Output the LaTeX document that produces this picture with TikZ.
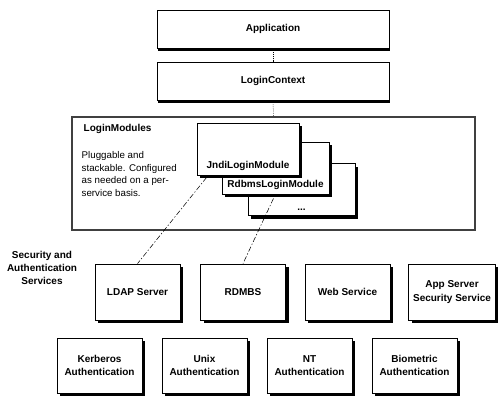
\documentclass[tikz,border=0pt]{standalone}
\usepackage{fontspec}
\setmainfont{Liberation Sans}
\usetikzlibrary{shadows}
\begin{document}
\begin{tikzpicture}[x=0.75pt,y=-0.75pt,
    every node/.style={font=\fontsize{7.5pt}{9.9pt}\selectfont\bfseries},
    topbox/.style={draw,fill=white,line width=0.6pt,minimum width=174pt,minimum height=28.5pt,
      drop shadow={shadow xshift=0.6pt,shadow yshift=-2.3pt,fill=black,opacity=1}},
    modbox/.style={draw,fill=white,line width=0.6pt,minimum height=39pt,
      drop shadow={shadow xshift=2.6pt,shadow yshift=-2.6pt,fill=black,opacity=1}},
    svcbox/.style={draw,fill=white,line width=0.6pt,minimum width=63.75pt,minimum height=42pt,align=center,
      drop shadow={shadow xshift=2.3pt,shadow yshift=-2.3pt,fill=black,opacity=1}},
    authbox/.style={svcbox,minimum height=41.25pt},
    link/.style={line width=0.4pt,dash pattern=on 4pt off 1.5pt on 1pt off 1.5pt}]
  \useasboundingbox (0,0) rectangle (503,402);
  % top of the stack
  \node[topbox] (app) at (273,29) {Application};
  \node[topbox] (ctx) at (273,81) {LoginContext};
  \node[draw=black!75,line width=1pt,minimum width=302.25pt,minimum height=84.75pt] (mods) at (273.5,173.5) {};
  \node[anchor=west] (modtitle) at (79,129) {LoginModules};
  \node[anchor=north west,align=left,font=\fontsize{7.3pt}{9.4pt}\selectfont] (modtext) at (77,147)
    {Pluggable and\\stackable. Configured\\as needed on a per-\\service basis.};
  \draw[densely dotted] (app.south) -- (ctx.north);
  \draw[densely dotted] (ctx.south) -- (mods.north);
  % stacked modules
  \node[modbox,minimum width=80.25pt,
    label={[name=dotslabel,anchor=south,yshift=0.5pt]south:...}] (dots) at (301.5,189.5) {};
  \node[modbox,minimum width=80.25pt,
    label={[name=rdbmslabel,anchor=south]south:RdbmsLoginModule}] (rdbms) at (275.5,168) {};
  \node[modbox,minimum width=76.5pt,
    label={[name=jndilabel,anchor=south]south:JndiLoginModule}] (jndi) at (248,149) {};
  % services
  \node[align=center] (sec) at (42,268) {Security and\\Authentication\\Services};
  \node[svcbox] (ldap) at (137.5,292) {LDAP Server};
  \node[svcbox] (rdmbs) at (243,292) {RDMBS};
  \node[svcbox] (web) at (347.5,292) {Web Service};
  \node[svcbox] (appsrv) at (452,292) {App Server\\Security Service};
  \node[authbox] (krb) at (99.5,365.5) {Kerberos\\Authentication};
  \node[authbox] (unix) at (204.5,365.5) {Unix\\Authentication};
  \node[authbox] (nt) at (309.5,365.5) {NT\\Authentication};
  \node[authbox] (bio) at (414.5,365.5) {Biometric\\Authentication};
  \begin{scope}[link]
    \draw ([xshift=7.5pt,yshift=-1.5pt]jndi.south west) -- (ldap.north);
    \draw ([xshift=-1.5pt,yshift=-3pt]rdbms.south) -- (rdmbs.north);
  \end{scope}
\end{tikzpicture}
\end{document}
